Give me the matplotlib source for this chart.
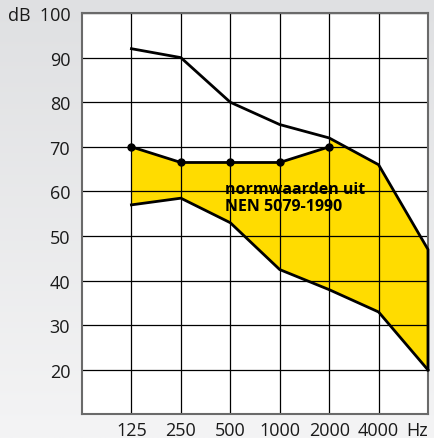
"""Audiogram style chart: norm band from NEN 5079-1990."""

import matplotlib

matplotlib.use("Agg")
import matplotlib.pyplot as plt
import numpy as np

FREQS = [125, 250, 500, 1000, 2000, 4000, 8000]
FREQ_LABELS = ["125", "250", "500", "1000", "2000", "4000"]
DB_TICKS = [20, 30, 40, 50, 60, 70, 80, 90, 100]
DB_LABELS = ["20", "30", "40", "50", "60", "70", "80", "90", "dB  100"]

# top curve, from 2000 Hz on it is also the upper edge of the band
UPPER_DB = [92, 90, 80, 75, 72, 66, 47]
# upper edge of the band with dots (125..2000 Hz)
NORM_FREQS = [125, 250, 500, 1000, 2000]
NORM_DB = [70, 66.5, 66.5, 66.5, 70]
# lower edge of the band
LOWER_DB = [57, 58.5, 53, 42.5, 38, 33, 20]

FONT = ["Open Sans", "DejaVu Sans"]
plt.rcParams["font.family"] = FONT

fig = plt.figure(figsize=(4.34, 4.39), dpi=100)

# light grey gradient behind everything
bg = fig.add_axes([0, 0, 1, 1], zorder=-10)
grad = np.linspace(0, 1, 256).reshape(-1, 1)
top = np.array([223, 224, 226]) / 255
bot = np.array([244, 244, 245]) / 255
img = top[None, None, :] * (1 - grad[:, :, None]) + bot[None, None, :] * grad[:, :, None]
bg.imshow(img, aspect="auto", extent=[0, 1, 0, 1])
bg.set_axis_off()

ax = fig.add_axes([82 / 434, 1 - 414.7 / 439, 346 / 434, 400.7 / 439])
ax.set_facecolor("white")
ax.set_xscale("log", base=2)
ax.set_xlim(62.5, 8000)
ax.set_ylim(10.2, 100)

# yellow band
band_x = NORM_FREQS + FREQS[4:] + FREQS[::-1]
band_y = NORM_DB + UPPER_DB[4:] + LOWER_DB[::-1]
ax.fill(band_x, band_y, color="#ffdc00", lw=0, zorder=1)

lw = 2.0
ax.plot(FREQS + [FREQS[-1]], UPPER_DB + [LOWER_DB[-1]], color="black", lw=lw,
        solid_joinstyle="miter", clip_on=False, zorder=3)
ax.plot(FREQS, LOWER_DB, color="black", lw=lw, clip_on=False, zorder=3)
ax.plot(NORM_FREQS, NORM_DB, "-o", color="black", lw=lw, markersize=5,
        clip_on=False, zorder=3)

ax.text(465, 62.3, "normwaarden uit\nNEN 5079-1990", fontsize=11.5,
        fontweight="bold", ha="left", va="top", linespacing=1.05, zorder=4)

ax.set_xticks(FREQS[:-1])
ax.set_xticklabels(FREQ_LABELS)
ax.xaxis.set_minor_locator(matplotlib.ticker.NullLocator())
ax.set_yticks(DB_TICKS)
ax.set_yticklabels(DB_LABELS)
ax.tick_params(axis="both", length=0, labelsize=13, colors="#1a1a1a")
ax.tick_params(axis="x", pad=5.5)
ax.tick_params(axis="y", pad=8.5)
ax.grid(True, color="black", lw=0.9)

for side in ["left", "bottom", "top", "right"]:
    ax.spines[side].set_color("#6a6a6a")
    ax.spines[side].set_linewidth(1.5)

ax.annotate("Hz", xy=(1, 0), xycoords="axes fraction", xytext=(0, -5.5),
            textcoords="offset points", ha="right", va="top", fontsize=13,
            color="#1a1a1a")

fig.savefig("out.png", dpi=100)
